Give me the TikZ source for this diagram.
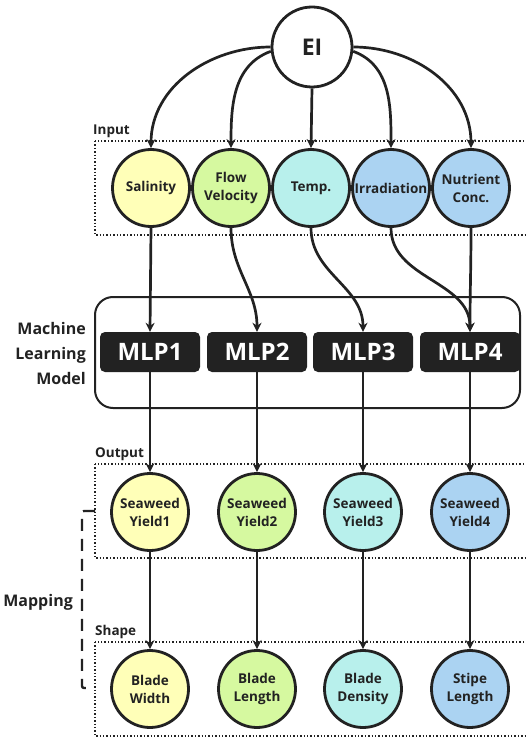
\documentclass[tikz,border=0pt]{standalone}
\usepackage{fontspec}
\setmainfont{Open Sans}
\usetikzlibrary{arrows.meta}
\definecolor{cyel}{HTML}{FFFFB8}
\definecolor{cgrn}{HTML}{D6F9A0}
\definecolor{ccyn}{HTML}{B8F0EC}
\definecolor{cblu}{HTML}{ABD3F2}
\definecolor{ink}{HTML}{222222}
\begin{document}
\begin{tikzpicture}[x=1pt,y=-1pt,
  circ/.style={circle,draw=ink,line width=2.8pt,minimum size=77pt,inner sep=0pt,align=center,font=\bfseries\fontsize{13.5}{18}\selectfont,text=ink},
  mlp/.style={rounded corners=5pt,fill=ink,text=white,minimum width=100pt,minimum height=40pt,inner sep=0pt,font=\bfseries\fontsize{24}{26}\selectfont},
  arr/.style={-{Stealth[length=9pt,width=9pt]},line width=2.7pt,draw=ink},
  dotbox/.style={draw=ink,dotted,line width=1.4pt},
  lbl/.style={font=\bfseries\fontsize{13.5}{15}\selectfont,text=ink,inner sep=0pt},
  side/.style={font=\bfseries\fontsize{16}{25}\selectfont,text=ink,inner sep=0pt,align=right}]
\useasboundingbox (0,0) rectangle (525,738);
% boxes
\draw[dotbox] (95,141) rectangle (530,235);
\draw[dotbox] (95,464) rectangle (530,558);
\draw[dotbox] (95,642) rectangle (530,736);
\draw[ink,line width=2pt,rounded corners=18pt] (95,297) rectangle (520,408);
% labels
\node[lbl,anchor=south west] (linput) at (93,138) {Input};
\node[lbl,anchor=south west] (loutput) at (95,461) {Output};
\node[lbl,anchor=south west] (lshape) at (95,639) {Shape};
\node[side,anchor=east] (lml) at (86,353) {Machine\\Learning\\Model};
\node[side,anchor=east] (lmap) at (73,602) {Mapping};
% EI
\node[circ,fill=white,minimum size=80pt,font=\bfseries\fontsize{23}{25}\selectfont] (EI) at (312,47) {EI};
% inputs
\node[circ,fill=cyel] (i1) at (151,188) {Salinity};
\node[circ,fill=cgrn] (i2) at (231,188) {Flow\\Velocity};
\node[circ,fill=ccyn] (i3) at (311,188) {Temp.};
\node[circ,fill=cblu] (i4) at (391,188) {Irradiation};
\node[circ,fill=cblu] (i5) at (471,188) {Nutrient\\Conc.};
% MLPs
\node[mlp] (m1) at (150,352) {MLP1};
\node[mlp] (m2) at (257,352) {MLP2};
\node[mlp] (m3) at (363,352) {MLP3};
\node[mlp] (m4) at (470,352) {MLP4};
% outputs
\node[circ,fill=cyel] (o1) at (150,512) {Seaweed\\Yield1};
\node[circ,fill=cgrn] (o2) at (257,512) {Seaweed\\Yield2};
\node[circ,fill=ccyn] (o3) at (363,512) {Seaweed\\Yield3};
\node[circ,fill=cblu] (o4) at (470,512) {Seaweed\\Yield4};
% shapes
\node[circ,fill=cyel] (s1) at (150,689) {Blade\\Width};
\node[circ,fill=cgrn] (s2) at (257,689) {Blade\\Length};
\node[circ,fill=ccyn] (s3) at (363,689) {Blade\\Density};
\node[circ,fill=cblu] (s4) at (470,689) {Stipe\\Length};
% EI arrows
\draw[arr] (EI.west) to[out=180,in=90] (i1.north);
\draw[arr] (EI.186) to[out=200,in=90] (i2.north);
\draw[arr] (EI.south) -- (i3.north);
\draw[arr] (EI.354) to[out=-20,in=90] (i4.north);
\draw[arr] (EI.east) to[out=0,in=90] (i5.north);
% input to MLP
\draw[arr] (i1.south) -- (m1.north);
\draw[arr] (i2.south) to[out=-90,in=90] (m2.north);
\draw[arr] (i3.south) to[out=-90,in=90] (m3.north);
\draw[arr] (i4.south) to[out=-90,in=90] (m4.north);
\draw[arr] (i5.south) to[out=-90,in=90] (m4.north);
% MLP to output
\foreach \k in {1,2,3,4}{
  \draw[arr] (m\k.south) -- (o\k.north);
  \draw[arr] (o\k.south) -- (s\k.north);
}
% mapping bracket
\coordinate (mt) at (95,511);
\coordinate (mc) at (82,511);
\coordinate (mb) at (82,688);
\coordinate (me) at (89,688);
\draw[ink,line width=2.4pt,dash pattern=on 12pt off 8pt,rounded corners=2pt] (mt) -- (mc) -- (mb) -- (me);
\end{tikzpicture}
\end{document}
